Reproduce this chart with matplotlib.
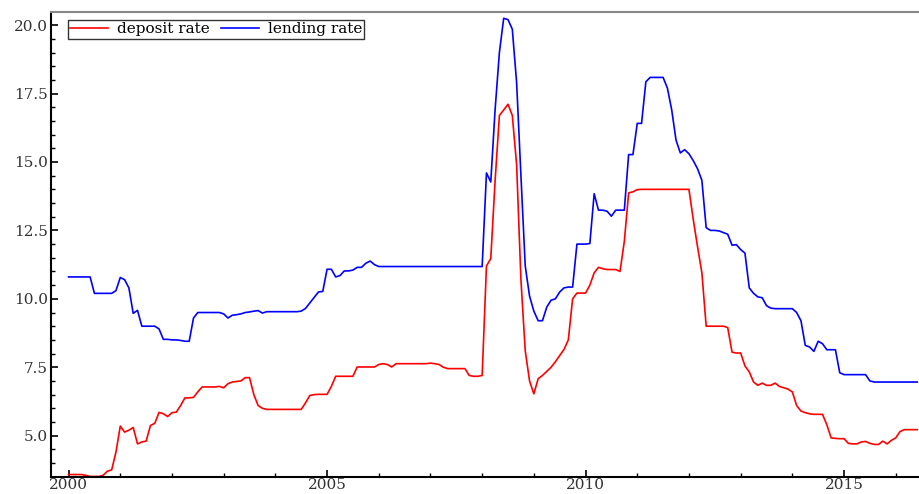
import numpy as np
import matplotlib
matplotlib.use("Agg")
import matplotlib.pyplot as plt
from matplotlib.ticker import MultipleLocator, FormatStrFormatter

# Monthly data, Jan 2000 .. Jun 2016
start_year = 2000

deposit_rate = [
    3.58, 3.58, 3.58, 3.58, 3.55, 3.51, 3.51, 3.51, 3.55, 3.70, 3.75, 4.40,
    5.35, 5.13, 5.20, 5.30, 4.70, 4.77, 4.80, 5.37, 5.45, 5.85, 5.80, 5.70,
    5.84, 5.86, 6.10, 6.38, 6.38, 6.40, 6.60, 6.78, 6.78, 6.78, 6.78, 6.80,
    6.75, 6.90, 6.96, 6.98, 7.00, 7.12, 7.12, 6.50, 6.10, 6.00, 5.96, 5.96,
    5.96, 5.96, 5.96, 5.96, 5.96, 5.96, 5.96, 6.20, 6.47, 6.50, 6.51, 6.51,
    6.51, 6.80, 7.17, 7.17, 7.17, 7.17, 7.17, 7.51, 7.51, 7.51, 7.51, 7.51,
    7.60, 7.63, 7.60, 7.51, 7.63, 7.63, 7.63, 7.63, 7.63, 7.63, 7.63, 7.63,
    7.65, 7.63, 7.60, 7.50, 7.45, 7.45, 7.45, 7.45, 7.45, 7.20, 7.17, 7.17,
    7.20, 11.20, 11.47, 14.30, 16.70, 16.90, 17.11, 16.70, 14.90, 10.70, 8.10, 7.00,
    6.53, 7.08, 7.20, 7.35, 7.50, 7.70, 7.93, 8.15, 8.50, 10.00, 10.21, 10.21,
    10.21, 10.50, 10.95, 11.15, 11.10, 11.07, 11.07, 11.07, 11.00, 12.10, 13.87, 13.91,
    13.99, 14.00, 14.00, 14.00, 14.00, 14.00, 14.00, 14.00, 14.00, 14.00, 14.00, 14.00,
    14.00, 12.90, 11.90, 10.95, 9.00, 9.00, 9.00, 9.00, 9.00, 8.95, 8.05, 8.02,
    8.02, 7.55, 7.33, 6.96, 6.84, 6.92, 6.84, 6.84, 6.92, 6.80, 6.75, 6.70,
    6.60, 6.10, 5.90, 5.84, 5.80, 5.78, 5.78, 5.78, 5.40, 4.92, 4.90, 4.89,
    4.89, 4.72, 4.70, 4.70, 4.77, 4.79, 4.72, 4.68, 4.68, 4.80, 4.70, 4.83,
    4.92, 5.15, 5.22, 5.22, 5.22, 5.22,
]

lending_rate = [
    10.80, 10.80, 10.80, 10.80, 10.80, 10.80, 10.20, 10.20, 10.20, 10.20, 10.20, 10.30,
    10.78, 10.70, 10.40, 9.47, 9.58, 9.00, 9.00, 9.00, 9.00, 8.90, 8.52, 8.52,
    8.50, 8.50, 8.48, 8.45, 8.45, 9.30, 9.50, 9.50, 9.50, 9.50, 9.50, 9.50,
    9.45, 9.30, 9.40, 9.42, 9.45, 9.50, 9.52, 9.55, 9.57, 9.48, 9.53, 9.53,
    9.53, 9.53, 9.53, 9.53, 9.53, 9.53, 9.55, 9.65, 9.85, 10.05, 10.25, 10.27,
    11.08, 11.08, 10.80, 10.85, 11.02, 11.02, 11.05, 11.15, 11.15, 11.30, 11.38, 11.25,
    11.18, 11.18, 11.18, 11.18, 11.18, 11.18, 11.18, 11.18, 11.18, 11.18, 11.18, 11.18,
    11.18, 11.18, 11.18, 11.18, 11.18, 11.18, 11.18, 11.18, 11.18, 11.18, 11.18, 11.18,
    11.18, 14.60, 14.27, 16.90, 19.00, 20.25, 20.20, 19.85, 17.90, 14.50, 11.20, 10.10,
    9.55, 9.20, 9.20, 9.70, 9.95, 10.00, 10.25, 10.40, 10.43, 10.43, 12.00, 12.00,
    12.00, 12.02, 13.84, 13.24, 13.24, 13.20, 13.02, 13.24, 13.24, 13.24, 15.27, 15.27,
    16.41, 16.41, 17.93, 18.09, 18.09, 18.09, 18.09, 17.70, 16.90, 15.80, 15.33, 15.45,
    15.30, 15.05, 14.75, 14.33, 12.60, 12.50, 12.50, 12.48, 12.42, 12.36, 11.96, 11.98,
    11.80, 11.67, 10.40, 10.20, 10.07, 10.04, 9.75, 9.66, 9.64, 9.64, 9.64, 9.64,
    9.64, 9.50, 9.20, 8.30, 8.24, 8.08, 8.45, 8.36, 8.14, 8.14, 8.14, 7.30,
    7.23, 7.23, 7.23, 7.23, 7.23, 7.23, 7.00, 6.96, 6.96, 6.96, 6.96, 6.96,
    6.96, 6.96, 6.96, 6.96, 6.96, 6.96,
]

series_labels = ["deposit rate", "lending rate"]
xtick_years = [2000, 2005, 2010, 2015]
ytick_values = [5.0, 7.5, 10.0, 12.5, 15.0, 17.5, 20.0]

years = start_year + np.arange(len(deposit_rate)) / 12.0

plt.rcParams["font.family"] = ["DejaVu Serif"]

fig = plt.figure(figsize=(9.19, 4.94), dpi=100)
ax_w_px, ax_h_px = 868.0, 465.0
ax = fig.add_axes([51 / 919, 17 / 494, ax_w_px / 919, ax_h_px / 494])

ax.plot(years, deposit_rate, color="#ff0000", lw=1.2, label=series_labels[0])
ax.plot(years, lending_rate, color="#0000ff", lw=1.2, label=series_labels[1])

ax.set_xlim(1999.66, 2016.45)
ax.set_ylim(3.49, 20.48)

ax.set_xticks(xtick_years)
ax.set_yticks(ytick_values)
ax.yaxis.set_major_formatter(FormatStrFormatter("%.1f"))
ax.xaxis.set_minor_locator(MultipleLocator(1))
ax.yaxis.set_minor_locator(MultipleLocator(0.5))

ax.tick_params(axis="both", which="major", direction="in", length=5, width=1.2,
               labelsize=11, colors="black", labelcolor="#333333", pad=2)
ax.tick_params(axis="x", which="major", pad=1)
ax.tick_params(axis="both", which="minor", direction="in", length=3, width=1.0)
ax.tick_params(axis="x", which="both", top=False)
ax.tick_params(axis="y", which="both", right=False)

ax.spines["right"].set_visible(False)
ax.spines["top"].set_color("#888888")
ax.spines["top"].set_linewidth(1.5)
ax.spines["left"].set_linewidth(1.5)
ax.spines["bottom"].set_linewidth(1.5)

leg = ax.legend(loc="upper left", bbox_to_anchor=(17 / ax_w_px, 1 - 8 / ax_h_px),
                borderaxespad=0.0, ncol=2, frameon=True, fancybox=False,
                fontsize=11, handlelength=2.5, handletextpad=0.55,
                columnspacing=0.75, borderpad=0.15, labelspacing=0.2)
leg.get_frame().set_edgecolor("black")
leg.get_frame().set_linewidth(1.0)

fig.savefig("out.png", dpi=100)
